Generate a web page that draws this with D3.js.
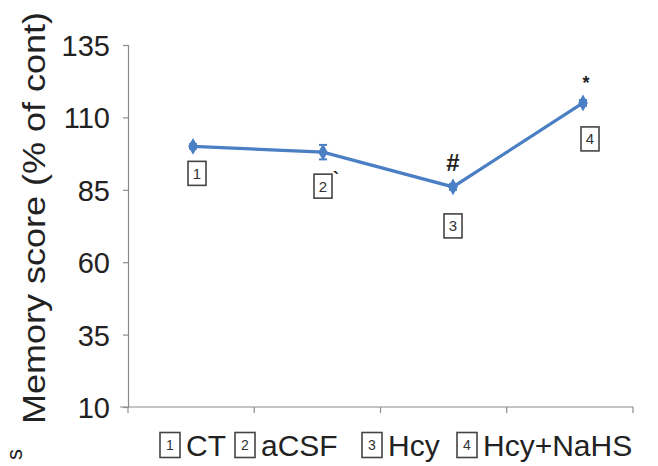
<!DOCTYPE html>
<html lang="en">
<head>
<meta charset="UTF-8" />
<title>Memory score</title>
<script src="https://cdnjs.cloudflare.com/ajax/libs/d3/7.8.2/d3.min.js"></script>
<style>
  body { margin: 0; padding: 0; background: #fff; }
  svg { display: block; font-family: "Liberation Sans", Arial, sans-serif; }
  .axis path, .axis line { stroke: #8c8c8c; stroke-width: 1.2px; }
  .axis text { fill: #222; }
</style>
</head>
<body>
<svg id="chart" width="658" height="466"></svg>
<script>
// data
const groups = ["CT", "aCSF", "Hcy", "Hcy+NaHS"];
const groupNums = ["1", "2", "3", "4"];
const scores = [100, 98, 86, 115];
const errors = [0.8, 2.5, 1, 1];
const marks = ["", "`", "#", "*"];
const yTicks = [10, 35, 60, 85, 110, 135];

const svg = d3.select("#chart");
const blue = "#4a7fc4";

// scales
const y = d3.scaleLinear().domain([10, 135]).range([407, 45]);
const xAxisScale = d3.scaleBand().domain(groups).range([128, 633]);
const xp = d3.scalePoint().domain(groups).range([193, 583]);

// y axis
svg.append("g")
  .attr("class", "axis")
  .attr("transform", "translate(128,0)")
  .call(d3.axisLeft(y).tickValues(yTicks).tickSize(5).tickPadding(13))
  .call(g => g.selectAll("text").attr("font-size", 29).attr("dy", "0.36em"));

// x axis, ticks at band edges
const xg = svg.append("g")
  .attr("class", "axis")
  .attr("transform", "translate(0,407)");
xg.append("line").attr("x1", 120).attr("x2", 633).attr("y1", 0).attr("y2", 0);
xg.selectAll(".xt")
  .data(groups.map(g => xAxisScale(g)).concat([xAxisScale.range()[1]]))
  .join("line")
  .attr("class", "xt")
  .attr("x1", d => d).attr("x2", d => d)
  .attr("y1", 0).attr("y2", 6);

// y axis title
svg.append("text")
  .attr("transform", "translate(45,218) rotate(-90)")
  .attr("text-anchor", "middle")
  .attr("font-size", 32)
  .attr("textLength", 412)
  .attr("lengthAdjust", "spacingAndGlyphs")
  .attr("fill", "#222")
  .text("Memory score (% of cont)");

// partial letter at bottom-left edge
svg.append("text")
  .attr("transform", "translate(22,460) rotate(-90)")
  .attr("font-size", 22)
  .attr("fill", "#222")
  .text("s");

// line
const line = d3.line()
  .x((d, i) => xp(groups[i]))
  .y(d => y(d));
svg.append("path")
  .datum(scores)
  .attr("d", line)
  .attr("fill", "none")
  .attr("stroke", blue)
  .attr("stroke-width", 3.2);

// error bars
const eb = svg.append("g").attr("stroke", blue).attr("stroke-width", 2);
scores.forEach((v, i) => {
  const cx = xp(groups[i]);
  eb.append("line").attr("x1", cx).attr("x2", cx)
    .attr("y1", y(v + errors[i])).attr("y2", y(v - errors[i]));
  [v + errors[i], v - errors[i]].forEach(e => {
    eb.append("line").attr("x1", cx - 4).attr("x2", cx + 4)
      .attr("y1", y(e)).attr("y2", y(e));
  });
});

// markers
svg.append("g").selectAll("path")
  .data(scores)
  .join("path")
  .attr("d", d3.symbol(d3.symbolDiamond, 80))
  .attr("transform", (d, i) => `translate(${xp(groups[i])},${y(d)})`)
  .attr("fill", blue);

// boxed number labels
function numBox(parent, cx, cy, w, h, label, fs) {
  const g = parent.append("g").attr("transform", `translate(${cx},${cy})`);
  g.append("rect")
    .attr("x", -w / 2).attr("y", -h / 2)
    .attr("width", w).attr("height", h)
    .attr("fill", "#fff").attr("stroke", "#444").attr("stroke-width", 1.6);
  g.append("text")
    .attr("text-anchor", "middle").attr("dy", "0.36em")
    .attr("font-size", fs).attr("fill", "#333")
    .text(label);
  return g;
}

const labelOffsets = [[4, 27], [0, 34], [0, 39], [7, 36]];
scores.forEach((v, i) => {
  const cx = xp(groups[i]) + labelOffsets[i][0];
  const cy = y(v) + labelOffsets[i][1];
  numBox(svg, cx, cy, 18, 24, groupNums[i], 15);
});

// significance marks
const markOffsets = [[0, 0], [13, 33], [0, -16], [3, -14]];
scores.forEach((v, i) => {
  if (!marks[i]) return;
  svg.append("text")
    .attr("x", xp(groups[i]) + markOffsets[i][0])
    .attr("y", y(v) + markOffsets[i][1])
    .attr("text-anchor", "middle")
    .attr("font-size", marks[i] === "#" ? 24 : 18)
    .attr("font-weight", "bold")
    .attr("fill", "#222")
    .text(marks[i]);
});

// legend
const legendX = [170, 245, 372, 467];
const legend = svg.append("g");
groups.forEach((g, i) => {
  numBox(legend, legendX[i], 445, 20, 25, groupNums[i], 14);
  legend.append("text")
    .attr("x", legendX[i] + 16)
    .attr("y", 445)
    .attr("dy", "0.36em")
    .attr("font-size", 30)
    .attr("fill", "#222")
    .text(g);
});
</script>
</body>
</html>
